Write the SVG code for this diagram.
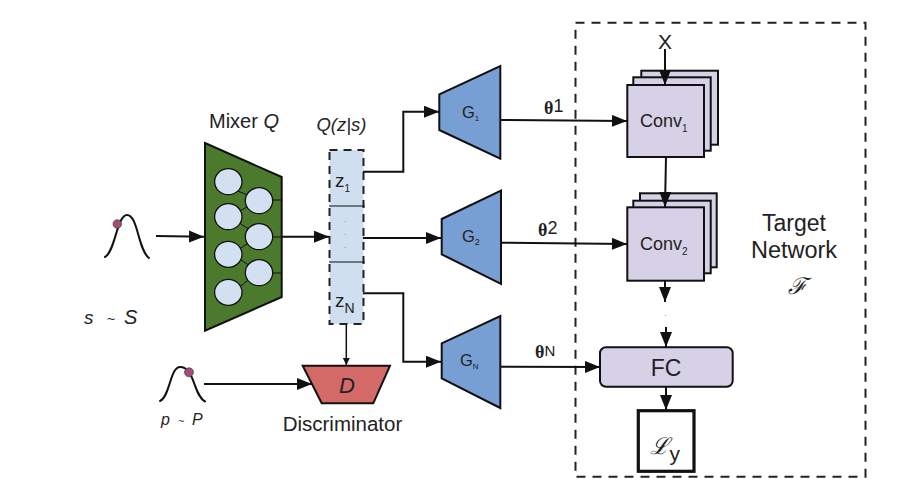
<svg xmlns="http://www.w3.org/2000/svg" width="900" height="498" viewBox="0 0 900 498">
<style>
text{font-family:"Liberation Sans",Arial,sans-serif;fill:#222}
text.dot{fill:#888}
.c{text-anchor:middle}
.i{font-style:italic}
.l{fill:none;stroke:#111;stroke-width:2}
.t{stroke-width:1.5}
.a{marker-end:url(#ah)}
.b{marker-end:url(#sm)}
.m{stroke:#111;stroke-width:2;stroke-linejoin:miter}
.k{fill:#d6d1e6;stroke:#111;stroke-width:2}
.g{fill:#779fd4;stroke:#111;stroke-width:2}
.n{fill:#d2e0f1;stroke:#111;stroke-width:1.3}
.w{stroke:#111;stroke-width:1;fill:none}
.cu{fill:none;stroke:#111;stroke-width:2;stroke-linecap:round}
.d{fill:#a04e78;stroke:#333;stroke-width:.6}
.th{font-weight:bold;font-family:"Liberation Serif",serif}
</style>
<defs>
<marker id="ah" markerUnits="userSpaceOnUse" markerWidth="16" markerHeight="14" refX="15" refY="6" orient="auto"><path d="M0 0L15 6L0 12Z" fill="#111"/></marker>
<marker id="sm" markerUnits="userSpaceOnUse" markerWidth="8" markerHeight="8" refX="7" refY="3.5" orient="auto"><path d="M0 0L7 3.5L0 7Z" fill="#111"/></marker>
</defs>
<rect width="900" height="498" fill="#fff"/>
<g id="target-network">
<rect x="575.5" y="22.7" width="290" height="454" fill="none" stroke="#222" stroke-width="2" stroke-dasharray="9 7"/>
<text class="c" x="794" y="230.5" font-size="23">Target</text>
<text class="c" x="794" y="258" font-size="23.5">Network</text>
<text class="c i" x="797" y="294" font-size="23" style="font-family:'DejaVu Serif',serif">ℱ</text>
</g>
<g id="source-s">
<path class="cu" d="M105 257C115 252 117 215 127 215C138 215 138 250 149 258"/>
<circle class="d" cx="117.3" cy="224" r="4.3"/>
<text x="84" y="324" font-size="19" class="i">s</text>
<text x="107" y="324" font-size="14">~</text>
<text x="124" y="324" font-size="20" class="i">S</text>
</g>
<g id="mixer">
<path d="M205 143L281.7 177V297L205 330.7Z" fill="#4b7a2d" class="m"/>
<path class="w" d="M238 191L259 200M238 212L259 200M238 222L259 236M238 250L259 236M238 258L259 272M238 288L259 272M272 200H282M272 237H282M272 273H282"/>
<ellipse class="n" cx="228.3" cy="181.7" rx="13.7" ry="13"/>
<ellipse class="n" cx="259" cy="200.7" rx="13.7" ry="13"/>
<ellipse class="n" cx="228.3" cy="216.7" rx="13.7" ry="13"/>
<ellipse class="n" cx="259" cy="236.7" rx="13.7" ry="13"/>
<ellipse class="n" cx="228.3" cy="254.3" rx="13.7" ry="13"/>
<ellipse class="n" cx="259" cy="272.7" rx="13.7" ry="13"/>
<ellipse class="n" cx="228.3" cy="292.3" rx="13.7" ry="13"/>
<text x="209" y="128" font-size="20">Mixer <tspan class="i">Q</tspan></text>
</g>
<g id="latent-z">
<rect x="329.5" y="150" width="34" height="174" fill="#cfdff0" stroke="#222" stroke-width="2" stroke-dasharray="8 6"/>
<path class="w" d="M329 206H365M329 262H365"/>
<text x="335" y="187" font-size="19">z<tspan font-size="10" dy="5">1</tspan></text>
<text x="335" y="307" font-size="19">z<tspan font-size="14" dy="6">N</tspan></text>
<text class="dot c" x="345" y="222" font-size="9">.</text>
<text class="dot c" x="345" y="235" font-size="9">.</text>
<text class="dot c" x="345" y="248" font-size="9">.</text>
<text class="c i" x="341.5" y="131" font-size="18.5">Q(z|s)</text>
</g>
<g id="g1">
<path class="g" d="M439.3 94.3L500.3 66V158.7L439.3 130Z"/>
<text x="462" y="118" font-size="16.5">G<tspan font-size="8" dy="3">1</tspan></text>
</g>
<g id="g2">
<path class="g" d="M441.7 219L501 190.7V284L441.7 254.3Z"/>
<text x="462" y="242" font-size="16.5">G<tspan font-size="9" dy="3">2</tspan></text>
</g>
<g id="gn">
<path class="g" d="M441.7 343.3L500.3 316V408L441.7 378.3Z"/>
<text x="460" y="366" font-size="16.5">G<tspan font-size="8" dy="3">N</tspan></text>
</g>
<g id="theta-labels">
<text x="544" y="114" font-size="18"><tspan class="th">θ</tspan><tspan dy="-2">1</tspan></text>
<text x="538" y="236" font-size="18"><tspan class="th">θ</tspan><tspan dy="-2">2</tspan></text>
<text x="535" y="358" font-size="18"><tspan class="th">θ</tspan><tspan dy="-2" font-size="15">N</tspan></text>
</g>
<g id="conv1">
<rect class="k" x="641.3" y="70.7" width="76.7" height="74"/>
<rect class="k" x="633.3" y="77.3" width="77.4" height="73.4"/>
<rect class="k" x="627.3" y="85" width="76.7" height="72"/>
<text x="640" y="127" font-size="18">Conv<tspan font-size="10" dy="5">1</tspan></text>
</g>
<g id="conv2">
<rect class="k" x="640" y="193.3" width="76.7" height="74"/>
<rect class="k" x="633.3" y="200.7" width="77.4" height="72.6"/>
<rect class="k" x="627.3" y="207.3" width="76.7" height="73.4"/>
<text x="640" y="250" font-size="18">Conv<tspan font-size="10" dy="5">2</tspan></text>
</g>
<text class="dot c" x="665.5" y="316" font-size="9">.</text>
<g id="fc">
<rect class="k" x="600" y="347.3" width="132.7" height="39.4" rx="6"/>
<text class="c" x="666" y="376" font-size="23">FC</text>
</g>
<g id="loss">
<rect x="638.3" y="410.7" width="55.7" height="60.6" fill="#fff" stroke="#111" stroke-width="3.2"/>
<text x="650" y="454" font-size="23" class="i" style="font-family:'DejaVu Serif',serif">ℒ</text>
<text x="669.5" y="461" font-size="21">y</text>
</g>
<g id="source-p">
<path class="cu" d="M160 401C170 397 170 367 180 367C195 367 193 395 205 401.5"/>
<circle class="d" cx="189" cy="372.3" r="4.5"/>
<text x="161" y="425" font-size="16" class="i">p</text>
<text x="178" y="425" font-size="11">~</text>
<text x="192" y="425" font-size="16" class="i">P</text>
</g>
<g id="discriminator">
<path d="M302.7 365.7H390L373.3 403.3H321.7Z" fill="#d46a68" class="m"/>
<text class="c i" x="347" y="393" font-size="22">D</text>
<text class="c" x="342.5" y="431" font-size="20.5">Discriminator</text>
</g>
<text class="c" x="665" y="49" font-size="21">X</text>
<g id="connectors">
<path class="l a" d="M156 236L204 236.7"/>
<path class="l a" d="M282 236.7H329"/>
<path class="l a" d="M363 171.7H403.3V111.7H439"/>
<path class="l a" d="M363 238H441"/>
<path class="l a" d="M363 293.3H403.3V361.7H441"/>
<path class="l a" d="M501 120L627 121"/>
<path class="l a" d="M501 242.7L627 244"/>
<path class="l a" d="M501 366.7L600 367"/>
<path class="l a" d="M665 49V85"/>
<path class="l a" d="M666 157L665 207"/>
<path class="l a" d="M665 281V302"/>
<path class="l a" d="M666 327V347"/>
<path class="l a" d="M666 387V410"/>
<path class="l t b" d="M346.3 325V365"/>
<path class="l a" d="M204 384H312"/>
</g>
</svg>
